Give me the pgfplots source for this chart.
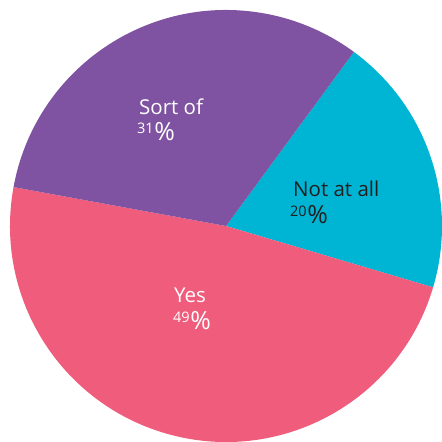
\documentclass[border=0pt]{standalone}
\usepackage{pgfplots}
\pgfplotsset{compat=1.18}
\usepackage{fontspec}
\setmainfont{Open Sans}
\definecolor{cyanS}{RGB}{0,180,212}
\definecolor{pinkS}{RGB}{240,92,124}
\definecolor{purpS}{RGB}{127,83,161}
\definecolor{txt}{RGB}{35,31,32}
\newcommand{\lbl}{\fontsize{20.5bp}{24bp}\selectfont}
\newcommand{\pct}[1]{\raisebox{7bp}{\fontsize{14.5bp}{16bp}\selectfont #1}\hspace{0.5bp}{\fontsize{25bp}{28bp}\selectfont\%}}
\begin{document}
\begin{tikzpicture}
\begin{axis}[hide axis, scale only axis, width=442bp, height=442bp,
  xmin=0, xmax=442, ymin=0, ymax=442, clip=false]
\coordinate (ll) at (axis cs:0,0);
\coordinate (ur) at (axis cs:442,442);
% shares: Not at all 19.5, Yes 48.3, Sort of 32.2 (start 53.7 deg, clockwise)
\fill[cyanS] (axis cs:226,216) -- ++(53.7:216bp) arc[start angle=53.7, delta angle=-70.2, radius=216bp] -- cycle;
\fill[pinkS] (axis cs:226,216) -- ++(-16.5:216bp) arc[start angle=-16.5, delta angle=-173.88, radius=216bp] -- cycle;
\fill[purpS] (axis cs:226,216) -- ++(-190.38:216bp) arc[start angle=-190.38, delta angle=-115.92, radius=216bp] -- cycle;
\node[anchor=base west, inner sep=0pt, white] at (axis cs:139,327) {\lbl Sort of};
\node[anchor=base west, inner sep=0pt, white] at (axis cs:137,301) {\pct{31}};
\node[anchor=base west, inner sep=0pt, txt] at (axis cs:293,245) {\lbl Not at all};
\node[anchor=base west, inner sep=0pt, txt] at (axis cs:290,218) {\pct{20}};
\node[anchor=base west, inner sep=0pt, white] at (axis cs:174,139) {\lbl Yes};
\node[anchor=base west, inner sep=0pt, white] at (axis cs:173,112) {\pct{49}};
\end{axis}
\pgfresetboundingbox
\path[use as bounding box] (ll) rectangle (ur);
\end{tikzpicture}
\end{document}
